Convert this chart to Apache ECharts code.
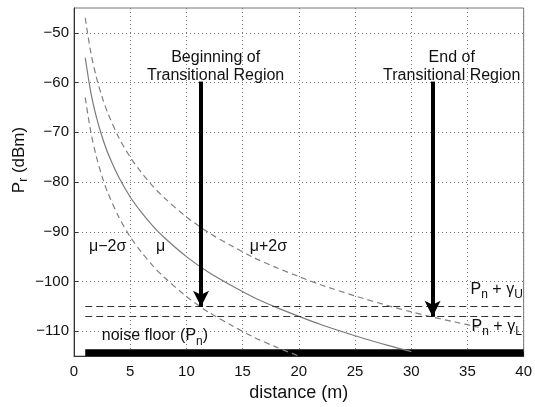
<!DOCTYPE html>
<html>
<head>
<meta charset="utf-8">
<script src="https://cdn.jsdelivr.net/npm/echarts@6/dist/echarts.min.js"></script>
<style>
  html, body { margin: 0; padding: 0; background: #fff; }
  #main { width: 535px; height: 407px; }
</style>
</head>
<body>
<div id="main"></div>
<script>
// tick labels
const xTicks = [0, 5, 10, 15, 20, 25, 30, 35, 40];
const yTicks = [-110, -100, -90, -80, -70, -60, -50];

// received power curves (distance in m, Pr in dBm)
const distUpper = [1, 1.5, 2, 2.5, 3, 4, 5, 6, 7, 8, 10, 12, 14, 16, 18, 20, 22, 25, 28, 30, 32, 34, 36];
const muPlus2Sigma = [-47, -54, -59, -62.9, -66.1, -71.1, -75, -78.1, -80.8, -83.1, -87, -90.2, -92.8, -95.2, -97.2, -99, -100.7, -102.9, -104.9, -106.1, -107.2, -108.2, -109.2];
const distMu = [1, 1.5, 2, 2.5, 3, 4, 5, 6, 7, 8, 10, 12, 14, 16, 18, 20, 22, 25, 28, 30];
const muValues = [-55, -62, -67, -70.9, -74.1, -79.1, -83, -86.1, -88.8, -91.1, -95, -98.2, -100.8, -103.2, -105.2, -107, -108.7, -110.9, -112.9, -114.1];
const distLower = [1, 1.5, 2, 2.5, 3, 4, 5, 6, 7, 8, 10, 12, 14, 16, 18, 20];
const muMinus2Sigma = [-63, -70, -75, -78.9, -82.1, -87.1, -91, -94.1, -96.8, -99.1, -103, -106.2, -108.8, -111.2, -113.2, -115];

// thresholds and noise floor
const gammaU = -105;
const gammaL = -107;
const thresholdRange = [1, 40];
const noiseFloor = [-113.6, -115];

// arrows: x, top, tip
const arrowX = [11.3, 31.9];
const arrowTop = -59.8;
const arrowTip = [-105.1, -107.1];

function pairs(xs, ys) {
  return xs.map((x, i) => [x, ys[i]]);
}

const chart = echarts.init(document.getElementById("main"));

const font = "Liberation Sans, Arial, sans-serif";
const txt = "#111";

// annotation texts, anchored at data coordinates
const notes = [
  { value: [12.6, -56.7], text: "Beginning of\nTransitional Region" },
  { value: [33.6, -56.7], text: "End of\nTransitional Region" },
  { value: [3.0, -92.9], text: "μ−2σ" },
  { value: [7.7, -92.9], text: "μ" },
  { value: [17.3, -92.9], text: "μ+2σ" },
  { value: [7.2, -110.9], text: "{a|noise floor (P}{s|n}{a|)}" },
  { value: [37.6, -101.6], text: "{a|P}{s|n}{a| + γ}{s|U}" },
  { value: [37.6, -109], text: "{a|P}{s|n}{a| + γ}{s|L}" }
];

const option = {
  animation: false,
  backgroundColor: "#fff",
  grid: {
    left: 74,
    right: 9,
    top: 8,
    bottom: 43,
    show: true,
    borderColor: "#777",
    borderWidth: 1,
    backgroundColor: "transparent"
  },
  graphic: [
    {
      type: "text",
      x: 19,
      y: 160,
      rotation: Math.PI / 2,
      style: {
        text: "{a|P}{s|r}{a| (dBm)}",
        align: "center",
        verticalAlign: "middle",
        rich: {
          a: { fontFamily: font, fontSize: 17, fill: txt },
          s: { fontFamily: font, fontSize: 12, fill: txt, padding: [10, 0, 0, 0] }
        }
      }
    }
  ],
  xAxis: [
    {
      type: "value",
      min: 0,
      max: 40,
      interval: 5,
      name: "distance (m)",
      nameLocation: "middle",
      nameGap: 25,
      nameTextStyle: { fontFamily: font, fontSize: 18, color: txt },
      axisLine: { show: true, onZero: false, lineStyle: { color: "#333" } },
      axisTick: { inside: true, length: 4, lineStyle: { color: "#333" } },
      axisLabel: { margin: 8, fontFamily: font, fontSize: 15, color: txt },
      splitLine: { show: true, lineStyle: { color: "#777", type: [1, 3], width: 1 } }
    }
  ],
  yAxis: [
    {
      type: "value",
      min: -115,
      max: -45,
      axisLine: { show: true, onZero: false, lineStyle: { color: "#333" } },
      axisTick: { inside: true, length: 4, customValues: yTicks, lineStyle: { color: "#333" } },
      axisLabel: {
        margin: 5,
        fontFamily: font,
        fontSize: 15,
        color: txt,
        customValues: yTicks,
        formatter: v => String(v).replace("-", "−")
      },
      splitLine: { show: true, lineStyle: { color: "#777", type: [1, 3], width: 1 } }
    }
  ],
  series: [
    {
      name: "μ+2σ",
      type: "line",
      data: pairs(distUpper, muPlus2Sigma),
      smooth: 0.3,
      showSymbol: false,
      lineStyle: { color: "#808080", width: 1.2, type: [6, 4] },
      z: 3
    },
    {
      name: "μ",
      type: "line",
      data: pairs(distMu, muValues),
      smooth: 0.3,
      showSymbol: false,
      lineStyle: { color: "#7a7a7a", width: 1.2, type: "solid" },
      z: 3
    },
    {
      name: "μ−2σ",
      type: "line",
      data: pairs(distLower, muMinus2Sigma),
      smooth: 0.3,
      showSymbol: false,
      lineStyle: { color: "#808080", width: 1.2, type: [6, 4] },
      z: 3
    },
    {
      name: "thresholds",
      type: "line",
      data: [],
      markLine: {
        silent: true,
        symbol: ["none", "none"],
        label: { show: false },
        lineStyle: { color: "#333", width: 1, type: [7, 4] },
        data: [
          [{ coord: [thresholdRange[0], gammaU] }, { coord: [thresholdRange[1], gammaU] }],
          [{ coord: [thresholdRange[0], gammaL] }, { coord: [thresholdRange[1], gammaL] }]
        ]
      },
      markArea: {
        silent: true,
        itemStyle: { color: "#000" },
        data: [[{ coord: [thresholdRange[0], noiseFloor[0]] }, { coord: [thresholdRange[1], noiseFloor[1]] }]]
      },
      z: 4
    },
    {
      name: "arrows",
      type: "line",
      data: [],
      markLine: {
        silent: true,
        symbol: ["none", "arrow"],
        symbolSize: [12, 16],
        label: { show: false },
        lineStyle: { color: "#000", width: 4, type: "solid" },
        data: arrowX.map((x, i) => [{ coord: [x, arrowTop] }, { coord: [x, arrowTip[i]] }])
      },
      z: 6
    },
    {
      name: "notes",
      type: "scatter",
      symbolSize: 0,
      itemStyle: { opacity: 1 },
      z: 7,
      data: notes.map(n => ({
        value: n.value,
        label: {
          show: true,
          position: "inside",
          formatter: n.text,
          fontFamily: font,
          fontSize: 16,
          lineHeight: 18,
          color: txt,
          align: "center",
          rich: {
            a: { fontFamily: font, fontSize: 16, color: txt },
            s: { fontFamily: font, fontSize: 12, color: txt, padding: [11, 0, 0, 0] }
          }
        }
      }))
    }
  ]
};

chart.setOption(option);
</script>
</body>
</html>
